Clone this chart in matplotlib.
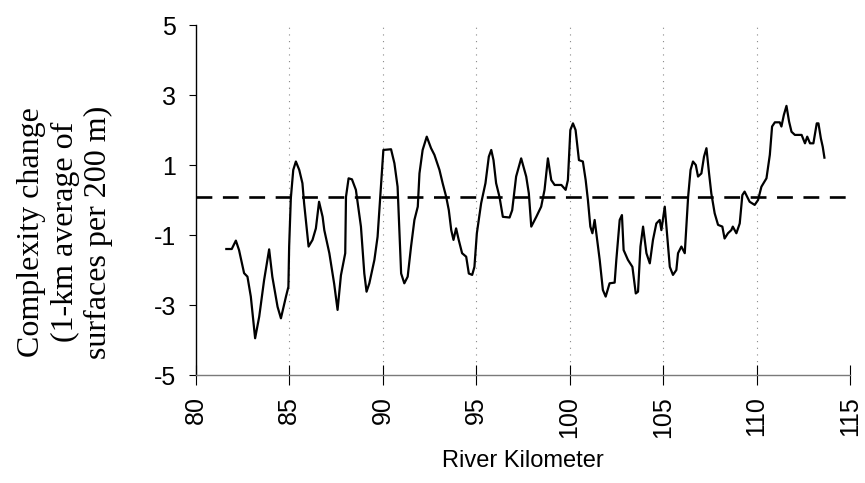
import matplotlib
matplotlib.use("Agg")
import matplotlib.pyplot as plt

river_km = [81.64, 81.93, 82.15, 82.32, 82.59, 82.77, 82.95, 83.18, 83.40, 83.66,
            83.93, 84.10, 84.38, 84.56, 84.83, 84.96, 85.00, 85.09, 85.22, 85.36,
            85.54, 85.71, 85.80, 86.04, 86.25, 86.43, 86.60, 86.79, 86.88, 87.15,
            87.41, 87.59, 87.77, 88.00, 88.04, 88.18, 88.36, 88.57, 88.84, 89.02,
            89.14, 89.29, 89.56, 89.73, 89.86, 90.04, 90.45, 90.63, 90.80, 90.99,
            91.16, 91.34, 91.52, 91.70, 91.88, 91.97, 92.14, 92.36, 92.59, 92.77,
            93.04, 93.21, 93.40, 93.54, 93.67, 93.79, 93.93, 94.07, 94.25, 94.47,
            94.61, 94.79, 94.91, 95.04, 95.27, 95.50, 95.68, 95.81, 95.93, 96.07,
            96.25, 96.43, 96.79, 96.93, 97.14, 97.41, 97.68, 97.82, 97.95, 98.22,
            98.48, 98.66, 98.84, 99.02, 99.20, 99.56, 99.79, 99.91, 100.04, 100.18,
            100.32, 100.50, 100.71, 100.86, 100.98, 101.11, 101.22, 101.34, 101.43, 101.61,
            101.78, 101.93, 102.14, 102.41, 102.50, 102.68, 102.80, 102.89, 103.12, 103.36,
            103.54, 103.66, 103.79, 103.93, 104.11, 104.29, 104.46, 104.64, 104.82, 104.91,
            105.09, 105.21, 105.36, 105.53, 105.71, 105.80, 105.98, 106.16, 106.34, 106.47,
            106.60, 106.75, 106.87, 107.05, 107.19, 107.32, 107.46, 107.58, 107.76, 107.94,
            108.17, 108.29, 108.47, 108.65, 108.73, 108.92, 109.10, 109.24, 109.36, 109.63,
            109.90, 110.08, 110.26, 110.53, 110.71, 110.83, 110.98, 111.24, 111.33, 111.46,
            111.60, 111.74, 111.87, 112.05, 112.41, 112.59, 112.71, 112.86, 113.04, 113.22,
            113.31, 113.44, 113.54, 113.63]

complexity = [-1.40, -1.40, -1.16, -1.43, -2.09, -2.19, -2.76, -3.95, -3.33, -2.29,
              -1.41, -2.19, -3.05, -3.38, -2.76, -2.48, -1.33, 0.05, 0.86, 1.10,
              0.86, 0.48, -0.09, -1.33, -1.14, -0.81, -0.05, -0.48, -0.86, -1.52,
              -2.40, -3.14, -2.15, -1.52, 0.09, 0.62, 0.59, 0.29, -0.76, -2.10,
              -2.62, -2.38, -1.71, -1.05, 0.00, 1.43, 1.45, 1.05, 0.38, -2.10,
              -2.38, -2.19, -1.33, -0.57, -0.19, 0.76, 1.43, 1.81, 1.48, 1.29,
              0.86, 0.48, 0.09, -0.29, -0.86, -1.14, -0.81, -1.14, -1.52, -1.62,
              -2.10, -2.14, -1.91, -0.95, -0.09, 0.48, 1.24, 1.43, 1.14, 0.48,
              0.09, -0.48, -0.50, -0.29, 0.67, 1.19, 0.67, 0.19, -0.76, -0.48,
              -0.19, 0.29, 1.19, 0.57, 0.43, 0.43, 0.29, 0.57, 2.00, 2.19,
              2.00, 1.14, 1.10, 0.57, 0.00, -0.76, -0.95, -0.57, -0.95, -1.71,
              -2.57, -2.76, -2.38, -2.36, -1.71, -0.57, -0.43, -1.43, -1.71, -1.91,
              -2.67, -2.62, -1.33, -0.76, -1.52, -1.81, -1.14, -0.67, -0.57, -0.86,
              -0.19, -0.95, -1.91, -2.14, -2.00, -1.52, -1.33, -1.52, 0.09, 0.86,
              1.10, 1.00, 0.67, 0.76, 1.24, 1.48, 0.76, 0.19, -0.38, -0.71,
              -0.76, -1.10, -0.95, -0.86, -0.76, -0.95, -0.67, 0.14, 0.24, -0.05,
              -0.14, 0.00, 0.38, 0.62, 1.29, 2.10, 2.22, 2.22, 2.10, 2.43,
              2.69, 2.24, 1.95, 1.86, 1.86, 1.62, 1.81, 1.62, 1.62, 2.19,
              2.19, 1.76, 1.52, 1.21]

reference_level = 0.09
x_ticks = [80, 85, 90, 95, 100, 105, 110, 115]
y_ticks = [-5, -3, -1, 1, 3, 5]
grid_km = [85, 90, 95, 100, 105, 110]

fig = plt.figure(figsize=(8.65, 4.83), dpi=100)
ax = fig.add_axes([0.2262, 0.2236, 0.9827 - 0.2262, 0.9482 - 0.2236])

for g in grid_km:
    ax.axvline(g, color="#888888", lw=0.8, linestyle=(0, (1, 5)), zorder=1)

ax.axhline(reference_level, color="black", lw=1.9, linestyle=(0, (6, 4)), zorder=2)
ax.plot(river_km, complexity, color="black", lw=1.6, zorder=3)

ax.set_xlim(80, 115)
ax.set_ylim(-5, 5)
ax.set_xticks(x_ticks)
ax.set_yticks(y_ticks)
ax.set_xticklabels([str(v) for v in x_ticks], rotation=90,
                   family="Liberation Sans", fontsize=18)
ax.set_yticklabels([str(v) for v in y_ticks], family="Liberation Sans", fontsize=18)

ax.spines["top"].set_visible(False)
ax.spines["right"].set_visible(False)
ax.spines["left"].set_color("black")
ax.spines["left"].set_linewidth(1.0)
ax.spines["bottom"].set_color("#7a7a7a")
ax.spines["bottom"].set_linewidth(1.0)
ax.tick_params(axis="y", direction="out", length=5, width=0.8, pad=9, colors="black")
ax.tick_params(axis="x", direction="inout", length=14, width=0.8, pad=8, colors="black")

fig.text(523 / 865, 1 - 461 / 483, "River Kilometer", family="Liberation Sans",
         fontsize=17, ha="center", va="center")
fig.text(65 / 865, 1 - 232 / 483,
         "Complexity change\n(1-km average of\nsurfaces per 200 m)",
         family="Liberation Serif", fontsize=23, rotation=90,
         ha="center", va="center", multialignment="center", linespacing=1.2)

fig.savefig("out.png", dpi=100)
